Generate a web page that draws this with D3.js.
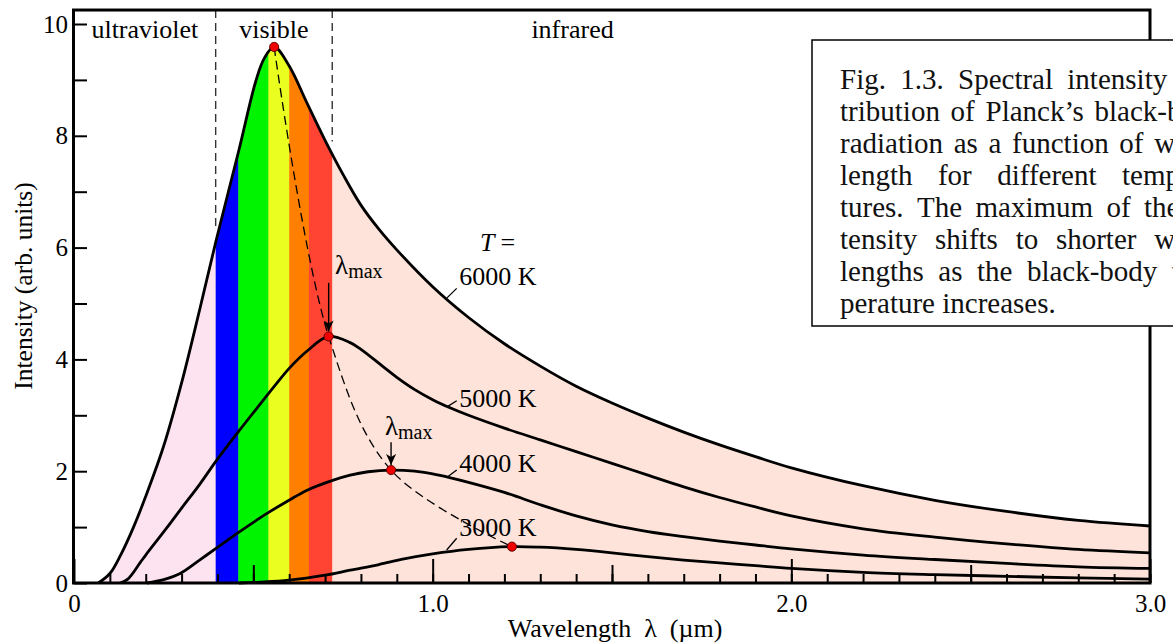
<!DOCTYPE html>
<html>
<head>
<meta charset="utf-8">
<script src="https://cdn.jsdelivr.net/npm/d3@7"></script>
<style>
  body { margin: 0; background: #fff; overflow: hidden; }
  svg { display: block; }
  text { font-family: "Liberation Serif", "Times New Roman", serif; }
</style>
</head>
<body>
<svg id="chart"></svg>
<script>
// Planck curves: [wavelength (µm), intensity (arb. units)]
const curve6000 = [[0.068,0],[0.10,0.17],[0.13,0.50],[0.166,1.00],[0.20,1.55],[0.25,2.45],[0.30,3.58],[0.35,4.88],
  [0.396,6.12],[0.46,7.75],[0.507,8.98],[0.53,9.38],[0.558,9.59],[0.60,9.25],[0.65,8.58],[0.70,7.92],[0.75,7.31],
  [0.80,6.76],[0.85,6.33],[0.90,5.96],[1.00,5.30],[1.10,4.75],[1.20,4.28],[1.30,3.88],[1.40,3.52],[1.50,3.22],[1.60,2.95],
  [1.70,2.70],[1.80,2.47],[1.90,2.26],[2.00,2.06],[2.20,1.74],[2.40,1.48],[2.60,1.28],[2.80,1.12],[3.00,1.02]];
const curve5000 = [[0.128,0],[0.15,0.07],[0.184,0.36],[0.20,0.50],[0.258,0.98],[0.30,1.34],[0.351,1.77],[0.396,2.18],
  [0.46,2.72],[0.519,3.20],[0.56,3.53],[0.60,3.84],[0.65,4.15],[0.71,4.41],[0.77,4.30],[0.80,4.18],[0.86,3.88],
  [0.90,3.68],[0.95,3.46],[1.00,3.28],[1.05,3.13],[1.10,3.00],[1.20,2.77],[1.30,2.56],[1.40,2.35],[1.50,2.14],
  [1.60,1.93],[1.70,1.72],[1.80,1.53],[1.90,1.36],[2.00,1.20],[2.20,0.97],[2.40,0.82],[2.60,0.70],[2.80,0.60],[3.00,0.54]];
const curve4000 = [[0.203,0],[0.25,0.06],[0.296,0.17],[0.35,0.41],[0.396,0.62],[0.46,0.91],[0.537,1.24],[0.602,1.49],
  [0.65,1.66],[0.723,1.84],[0.77,1.93],[0.82,1.99],[0.884,2.02],[0.95,2.00],[1.00,1.95],[1.05,1.88],[1.10,1.80],
  [1.20,1.62],[1.30,1.40],[1.40,1.20],[1.50,1.04],[1.60,0.92],[1.70,0.83],[1.80,0.75],[1.90,0.68],[2.00,0.61],
  [2.20,0.50],[2.40,0.42],[2.60,0.35],[2.80,0.29],[3.00,0.26]];
const curve3000 = [[0.46,0],[0.52,0.015],[0.60,0.05],[0.70,0.14],[0.77,0.23],[0.85,0.33],[0.92,0.43],[1.00,0.52],
  [1.10,0.60],[1.221,0.65],[1.30,0.64],[1.40,0.60],[1.50,0.54],[1.60,0.47],[1.70,0.41],[1.80,0.36],[1.90,0.31],
  [2.00,0.26],[2.20,0.19],[2.40,0.15],[2.60,0.12],[2.80,0.09],[3.00,0.07]];

// maxima of each curve (red dots, joined by the dashed Wien line)
const peaks = [[0.558,9.59],[0.71,4.41],[0.884,2.02],[1.221,0.65]];

// spectral bands under the 6000 K curve
const bandEdges  = [0, 0.395, 0.458, 0.542, 0.600, 0.655, 0.720, 3.0];
const bandColors = ["#fde3ef", "#0000ff", "#00f400", "#eaff1f", "#ff8000", "#ff4433", "#fde3d9"];

// region dividers [λ, where the dash stops] and names
const dividers = [[0.395, 6.3], [0.720, 7.9]];
const regionNames = ["ultraviolet", "visible", "infrared"];
const regionCenters = [0.1975, 0.5575, 1.39];

// temperature labels: text, label anchor (λ, I), leader from curve to label
const tempNames = ["6000 K", "5000 K", "4000 K", "3000 K"];
const tempAnchor = [[1.074,5.33],[1.074,3.15],[1.074,1.99],[1.074,0.84]];
const tempLeader = [[[1.040,5.10],[1.067,5.27]],[[1.040,3.15],[1.067,3.26]],[[1.040,1.89],[1.067,2.02]],[[1.039,0.59],[1.067,0.80]]];

// λmax arrows: [λ, from I, to I] and label anchors
const arrows = [[0.71, 5.37, 4.41], [0.884, 2.52, 2.02]];
const lambdaAnchor = [[0.728, 5.53], [0.867, 2.65]];

const yTicks = d3.range(0, 11);
const xMinorTicks = d3.range(1, 31).map(i => i / 10);
const xMidTicks = [0.5, 1.5, 2.5];
const xMajorTicks = [0, 1, 2, 3];

const captionLines = [
  "Fig. 1.3. Spectral intensity dis-",
  "tribution of Planck\u2019s black-body",
  "radiation as a function of wave-",
  "length for different tempera-",
  "tures. The maximum of the in-",
  "tensity shifts to shorter wave-",
  "lengths as the black-body tem-",
  "perature increases."
];

const width = 1173, height = 644;
const svg = d3.select("#chart").attr("width", width).attr("height", height);
const serif = "Liberation Serif, Times New Roman, serif";

const x = d3.scaleLinear().domain([0, 3]).range([74, 1150]);
const y = d3.scaleLinear().domain([0, 10]).range([583, 24]);

const smooth = d3.curveCatmullRom.alpha(0.5);
const line = d3.line().x(d => x(d[0])).y(d => y(d[1])).curve(smooth);
const area = d3.area().x(d => x(d[0])).y0(y(0)).y1(d => y(d[1])).curve(smooth);

// clip for the coloured bands
const defs = svg.append("defs");
defs.append("clipPath").attr("id", "under6000")
  .append("path").attr("d", area(curve6000));

defs.append("marker")
  .attr("id", "arrow").attr("markerUnits", "userSpaceOnUse")
  .attr("markerWidth", 10).attr("markerHeight", 12)
  .attr("refX", 5).attr("refY", 11).attr("orient", "0")
  .append("path").attr("d", "M0,0 L5,11 L10,0 L5,3 Z").attr("fill", "#000");

const bands = svg.append("g").attr("clip-path", "url(#under6000)");
bandColors.forEach((c, i) => {
  bands.append("rect")
    .attr("x", x(bandEdges[i]))
    .attr("width", x(bandEdges[i + 1]) - x(bandEdges[i]) + 0.5)
    .attr("y", y(10.3))
    .attr("height", y(0) - y(10.3))
    .attr("fill", c);
});

// dashed dividers between regions
svg.append("g").selectAll("line").data(dividers).join("line")
  .attr("x1", d => x(d[0])).attr("x2", d => x(d[0]))
  .attr("y1", y(10.25)).attr("y2", d => y(d[1]))
  .attr("stroke", "#333").attr("stroke-width", 1.4).attr("stroke-dasharray", "8,5");

// curves
svg.append("g").selectAll("path").data([curve6000, curve5000, curve4000, curve3000]).join("path")
  .attr("d", line).attr("fill", "none").attr("stroke", "#000").attr("stroke-width", 2.8);

// Wien displacement dashed line
svg.append("path")
  .attr("d", d3.line().x(d => x(d[0])).y(d => y(d[1])).curve(d3.curveCatmullRom.alpha(0.5))(peaks))
  .attr("fill", "none").attr("stroke", "#000").attr("stroke-width", 1.3).attr("stroke-dasharray", "9,5");

// leaders
svg.append("g").selectAll("line").data(tempLeader).join("line")
  .attr("x1", d => x(d[0][0])).attr("y1", d => y(d[0][1]))
  .attr("x2", d => x(d[1][0])).attr("y2", d => y(d[1][1]))
  .attr("stroke", "#000").attr("stroke-width", 1.3);

// arrows
svg.append("g").selectAll("line").data(arrows).join("line")
  .attr("x1", d => x(d[0])).attr("x2", d => x(d[0]))
  .attr("y1", d => y(d[1])).attr("y2", d => y(d[2]) - 5)
  .attr("stroke", "#000").attr("stroke-width", 1.4)
  .attr("marker-end", "url(#arrow)");

// peak dots
svg.append("g").selectAll("circle").data(peaks).join("circle")
  .attr("cx", d => x(d[0])).attr("cy", d => y(d[1])).attr("r", 4.6)
  .attr("fill", "#f00000").attr("stroke", "#500").attr("stroke-width", 0.9);

// labels
svg.append("g").selectAll("text").data(tempNames).join("text")
  .attr("x", (d, i) => x(tempAnchor[i][0])).attr("y", (d, i) => y(tempAnchor[i][1]))
  .attr("font-family", serif).attr("font-size", 26).text(d => d);

svg.append("text")
  .attr("x", x(1.132)).attr("y", y(5.94)).attr("font-family", serif).attr("font-size", 26)
  .call(t => t.append("tspan").attr("font-style", "italic").text("T"))
  .call(t => t.append("tspan").attr("dx", 6).text("="));

lambdaAnchor.forEach(a => {
  const t = svg.append("text").attr("x", x(a[0])).attr("y", y(a[1]))
    .attr("font-family", serif).attr("font-size", 27);
  t.append("tspan").text("\u03bb");
  t.append("tspan").attr("font-size", 20).attr("dy", 4).text("max");
});

svg.append("g").selectAll("text").data(regionNames).join("text")
  .attr("x", (d, i) => x(regionCenters[i])).attr("y", 38)
  .attr("text-anchor", "middle").attr("font-family", serif).attr("font-size", 26).text(d => d);

// frame
svg.append("rect")
  .attr("x", x(0) - 0.5).attr("y", y(10.25))
  .attr("width", x(3) - x(0) + 0.5).attr("height", y(0) - y(10.25))
  .attr("fill", "none").attr("stroke", "#000").attr("stroke-width", 3);

// axes (ticks pointing inward)
function styleAxis(g) {
  g.select(".domain").remove();
  g.selectAll(".tick line").attr("stroke", "#000").attr("stroke-width", 2);
  g.selectAll(".tick text").attr("fill", "#000").attr("font-size", 25).attr("font-family", serif);
}
svg.append("g").attr("transform", `translate(0,${y(0)})`)
  .call(d3.axisBottom(x).tickValues(xMinorTicks).tickSizeInner(-9).tickSizeOuter(0).tickFormat(""))
  .call(styleAxis);
svg.append("g").attr("transform", `translate(0,${y(0)})`)
  .call(d3.axisBottom(x).tickValues(xMidTicks).tickSizeInner(-18).tickSizeOuter(0).tickFormat(""))
  .call(styleAxis);
svg.append("g").attr("transform", `translate(0,${y(0)})`)
  .call(d3.axisBottom(x).tickValues(xMajorTicks).tickSizeInner(-24).tickSizeOuter(0).tickPadding(11)
    .tickFormat(d => d === 0 ? "0" : d.toFixed(1)))
  .call(styleAxis);
svg.append("g").attr("transform", `translate(${x(0)},0)`)
  .call(d3.axisLeft(y).tickValues(yTicks).tickSizeInner(-13).tickSizeOuter(0).tickPadding(6)
    .tickFormat(d => d % 2 ? "" : d))
  .call(styleAxis);

// axis titles
svg.append("text")
  .attr("x", 615).attr("y", 637).attr("text-anchor", "middle")
  .attr("font-family", serif).attr("font-size", 26)
  .attr("xml:space", "preserve")
  .text("Wavelength  \u03bb  (\u00b5m)");
svg.append("text")
  .attr("transform", "translate(32,286) rotate(-90)")
  .attr("text-anchor", "middle").attr("font-family", serif).attr("font-size", 25.5)
  .text("Intensity (arb. units)");

// caption box, running past the right edge of the page
const cap = svg.append("g");
cap.append("rect")
  .attr("x", 812).attr("y", 40).attr("width", 500).attr("height", 286)
  .attr("fill", "#fff").attr("stroke", "#000").attr("stroke-width", 1.5);

const capX = 840, capY = 89, capW = 385, capLH = 32, capFS = 29;
captionLines.forEach((ln, li) => {
  const words = ln.split(" ");
  const texts = words.map(w => cap.append("text").attr("y", capY + li * capLH)
    .attr("font-family", serif).attr("font-size", capFS).attr("fill", "#111").text(w));
  const widths = texts.map(t => t.node().getComputedTextLength());
  const last = li === captionLines.length - 1;
  const gap = last ? capFS * 0.25 : (capW - d3.sum(widths)) / (words.length - 1);
  let cx = capX;
  texts.forEach((t, i) => { t.attr("x", cx); cx += widths[i] + gap; });
});
</script>
</body>
</html>
